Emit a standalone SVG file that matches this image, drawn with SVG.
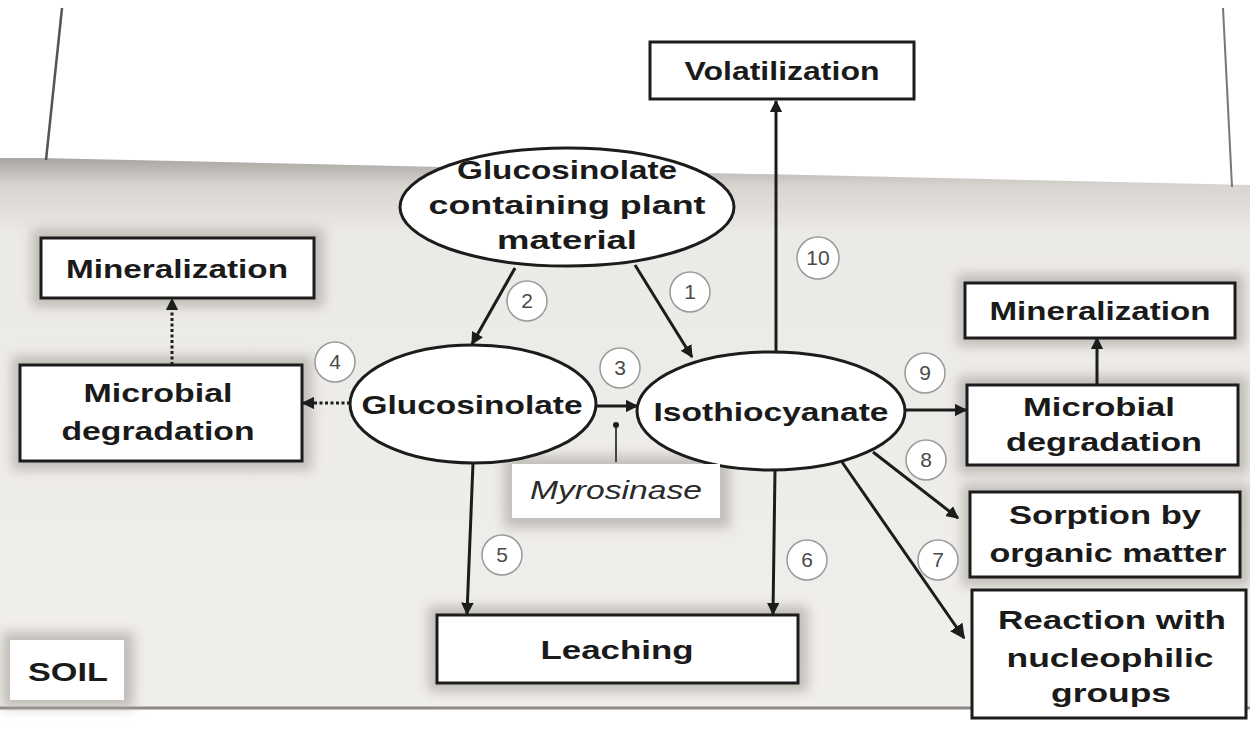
<svg xmlns="http://www.w3.org/2000/svg" width="1250" height="737" viewBox="0 0 1250 737">
<defs>
<style>
.box{fill:#fff;stroke:#1c1c1c;stroke-width:3}
.ell{fill:#fff;stroke:#1c1c1c;stroke-width:3}
.t{font-family:"Liberation Sans",Arial,sans-serif;font-weight:bold;font-size:26px;fill:#1a1a1a;text-anchor:middle}
.it{font-family:"Liberation Sans",Arial,sans-serif;font-style:italic;font-size:25px;fill:#2a2a2a;text-anchor:middle}
.ln{stroke:#1c1c1c;stroke-width:3;fill:none}
.dot{stroke:#1c1c1c;stroke-width:3;fill:none;stroke-dasharray:3 2.5}
.nc{fill:#fff;stroke:#9a9a9a;stroke-width:1.5}
.n{font-family:"Liberation Sans",Arial,sans-serif;font-size:21px;fill:#4a4a4a;text-anchor:middle}
</style>
<marker id="ah" viewBox="0 0 10 10" refX="9" refY="5" markerWidth="4.2" markerHeight="4.2" orient="auto" markerUnits="strokeWidth">
<path d="M0,0 L10,5 L0,10 z" fill="#1c1c1c"/>
</marker>
<marker id="ahb" viewBox="0 0 10 10" refX="9" refY="5" markerWidth="5" markerHeight="5" orient="auto" markerUnits="strokeWidth">
<path d="M0,0 L10,5 L0,10 z" fill="#1c1c1c"/>
</marker>
<linearGradient id="soilg" x1="0" y1="0" x2="0" y2="1">
<stop offset="0" stop-color="#a9a6a2"/>
<stop offset="0.05" stop-color="#d8d5d1"/>
<stop offset="0.14" stop-color="#eceae6"/>
<stop offset="1" stop-color="#f1efec"/>
</linearGradient>
<filter id="halo" x="-20%" y="-30%" width="140%" height="160%">
<feGaussianBlur stdDeviation="6"/>
</filter>
</defs>

<rect x="0" y="0" width="1250" height="737" fill="#ffffff"/>
<polygon points="40,158 1250,185 1250,708 0,708 0,158" fill="url(#soilg)"/>
<line x1="0" y1="708" x2="1250" y2="708" stroke="#8d8a86" stroke-width="3"/>
<line x1="62" y1="8" x2="46" y2="160" stroke="#555" stroke-width="2.5"/>
<line x1="1223" y1="8" x2="1232" y2="187" stroke="#777" stroke-width="2"/>

<g fill="#a9a5a0" filter="url(#halo)" opacity="0.65">
<rect x="32" y="229" width="292" height="78"/>
<rect x="12" y="356" width="300" height="114"/>
<rect x="957" y="274" width="287" height="72"/>
<rect x="958" y="376" width="290" height="98"/>
<rect x="962" y="484" width="288" height="102"/>
<rect x="428" y="606" width="380" height="86"/>
<rect x="504" y="456" width="226" height="72"/>
<rect x="2" y="632" width="132" height="76"/>
</g>

<g id="connectors">
<line class="ln" x1="515" y1="268" x2="472" y2="344" marker-end="url(#ah)"/>
<line class="ln" x1="635" y1="265" x2="692" y2="357" marker-end="url(#ah)"/>
<line class="ln" x1="776" y1="352" x2="776" y2="101" marker-end="url(#ah)"/>
<line class="dot" x1="350" y1="403" x2="303" y2="403" marker-end="url(#ah)"/>
<line class="dot" x1="172" y1="365" x2="172" y2="299" marker-end="url(#ah)"/>
<line class="ln" x1="597" y1="406" x2="637" y2="406" marker-end="url(#ah)"/>
<line x1="616" y1="462" x2="616" y2="428" stroke="#444" stroke-width="2"/>
<circle cx="616" cy="425" r="3" fill="#1c1c1c"/>
<line class="ln" x1="473" y1="463" x2="467" y2="614" marker-end="url(#ah)"/>
<line class="ln" x1="775" y1="470" x2="773" y2="614" marker-end="url(#ah)"/>
<line class="ln" x1="906" y1="410" x2="966" y2="410" marker-end="url(#ah)"/>
<line class="ln" x1="1097" y1="385" x2="1097" y2="338" marker-end="url(#ah)"/>
<line class="ln" x1="873" y1="452" x2="958" y2="518" marker-end="url(#ah)"/>
<line class="ln" x1="842" y1="462" x2="964" y2="638" stroke-width="4.5" marker-end="url(#ahb)"/>
</g>

<g id="labels">
<circle class="nc" cx="527" cy="301" r="20"/><text class="n" x="527" y="308">2</text>
<circle class="nc" cx="690" cy="292" r="20"/><text class="n" x="690" y="299">1</text>
<circle class="nc" cx="818" cy="258" r="21"/><text class="n" x="818" y="265">10</text>
<circle class="nc" cx="335" cy="362" r="20"/><text class="n" x="335" y="369">4</text>
<circle class="nc" cx="620" cy="368" r="20"/><text class="n" x="620" y="375">3</text>
<circle class="nc" cx="502" cy="555" r="20"/><text class="n" x="502" y="562">5</text>
<circle class="nc" cx="807" cy="560" r="20"/><text class="n" x="807" y="567">6</text>
<circle class="nc" cx="925" cy="373" r="20"/><text class="n" x="925" y="380">9</text>
<circle class="nc" cx="926" cy="460" r="20"/><text class="n" x="926" y="467">8</text>
<circle class="nc" cx="938" cy="560" r="20"/><text class="n" x="938" y="567">7</text>
</g>

<g id="volatilization">
<rect class="box" x="650" y="42" width="264" height="57"/>
<text class="t" x="782" y="80" textLength="195" lengthAdjust="spacingAndGlyphs">Volatilization</text>
</g>
<g id="plant-material">
<ellipse class="ell" cx="567" cy="207" rx="167" ry="59"/>
<text class="t" x="567" y="179" textLength="220" lengthAdjust="spacingAndGlyphs">Glucosinolate</text>
<text class="t" x="567" y="214" textLength="277" lengthAdjust="spacingAndGlyphs">containing plant</text>
<text class="t" x="567" y="249" textLength="140" lengthAdjust="spacingAndGlyphs">material</text>
</g>
<g id="mineralization-left">
<rect class="box" x="41" y="238" width="273" height="60"/>
<text class="t" x="177" y="278" textLength="222" lengthAdjust="spacingAndGlyphs">Mineralization</text>
</g>
<g id="microbial-left">
<rect class="box" x="20" y="365" width="282" height="96"/>
<text class="t" x="158" y="402" textLength="149" lengthAdjust="spacingAndGlyphs">Microbial</text>
<text class="t" x="158" y="440" textLength="193" lengthAdjust="spacingAndGlyphs">degradation</text>
</g>
<g id="glucosinolate">
<ellipse class="ell" cx="473" cy="404" rx="123" ry="59"/>
<text class="t" x="472" y="414" textLength="221" lengthAdjust="spacingAndGlyphs">Glucosinolate</text>
</g>
<g id="isothiocyanate">
<ellipse class="ell" cx="771" cy="411" rx="134" ry="59"/>
<text class="t" x="771" y="421" textLength="235" lengthAdjust="spacingAndGlyphs">Isothiocyanate</text>
</g>
<g id="myrosinase">
<rect x="512" y="464" width="208" height="54" fill="#fff"/>
<text class="it" x="616" y="499" textLength="172" lengthAdjust="spacingAndGlyphs">Myrosinase</text>
</g>
<g id="mineralization-right">
<rect class="box" x="965" y="283" width="270" height="55"/>
<text class="t" x="1100" y="320" textLength="221" lengthAdjust="spacingAndGlyphs">Mineralization</text>
</g>
<g id="microbial-right">
<rect class="box" x="967" y="385" width="271" height="80"/>
<text class="t" x="1099" y="416" textLength="152" lengthAdjust="spacingAndGlyphs">Microbial</text>
<text class="t" x="1104" y="451" textLength="196" lengthAdjust="spacingAndGlyphs">degradation</text>
</g>
<g id="sorption">
<rect class="box" x="970" y="492" width="270" height="85"/>
<text class="t" x="1105" y="524" textLength="192" lengthAdjust="spacingAndGlyphs">Sorption by</text>
<text class="t" x="1108" y="562" textLength="237" lengthAdjust="spacingAndGlyphs">organic matter</text>
</g>
<g id="reaction">
<rect class="box" x="972" y="590" width="274" height="128"/>
<text class="t" x="1112" y="629" textLength="228" lengthAdjust="spacingAndGlyphs">Reaction with</text>
<text class="t" x="1110" y="667" textLength="207" lengthAdjust="spacingAndGlyphs">nucleophilic</text>
<text class="t" x="1111" y="702" textLength="120" lengthAdjust="spacingAndGlyphs">groups</text>
</g>
<g id="leaching">
<rect class="box" x="437" y="615" width="361" height="68"/>
<text class="t" x="617" y="659" textLength="153" lengthAdjust="spacingAndGlyphs">Leaching</text>
</g>
<g id="soil">
<rect x="10" y="640" width="114" height="60" fill="#fff"/>
<text class="t" x="68" y="681" textLength="80" lengthAdjust="spacingAndGlyphs">SOIL</text>
</g>
</svg>
